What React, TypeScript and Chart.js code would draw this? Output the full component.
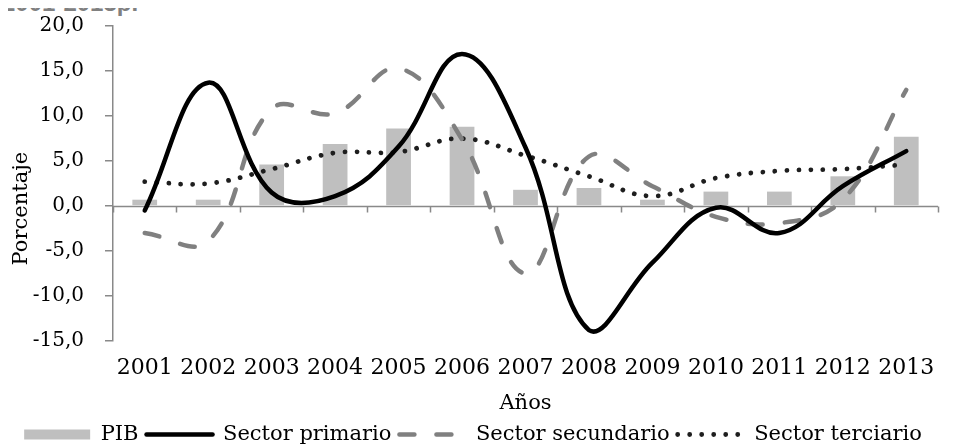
import React, { useEffect, useRef } from "react";
import { Chart, registerables } from "chart.js";

Chart.register(...registerables);

const categories = ["2001", "2002", "2003", "2004", "2005", "2006", "2007", "2008", "2009", "2010", "2011", "2012", "2013"];
const pib = [0.7, 0.7, 4.6, 6.9, 8.6, 8.8, 1.8, 2.0, 0.7, 1.6, 1.6, 3.3, 7.7];
const primario = [-0.5, 13.7, 1.5, 1.1, 6.6, 16.9, 6.5, -13.8, -6.3, -0.2, -3.0, 2.2, 6.1];
const secundario = [-3.0, -3.9, 10.8, 10.3, 15.3, 7.4, -7.5, 5.5, 2.2, -1.2, -1.9, 0.7, 12.9];
const terciario = [2.7, 2.5, 4.1, 5.9, 6.0, 7.5, 5.6, 3.3, 1.1, 3.1, 3.9, 4.1, 4.6];
const seriesNames = ["PIB", "Sector primario", "Sector secundario", "Sector terciario"];
const yTitle = "Porcentaje";
const xTitle = "Años";
const yMin = -15;
const yMax = 20;
const yStep = 5;

const FONT = "'DejaVu Serif', 'Liberation Serif', serif";
const AXIS = "#898989";

const zeroAxis = {
  id: "zeroAxis",
  beforeDatasetsDraw(chart: any) {
    const { ctx, chartArea, scales } = chart;
    const x = scales.x;
    const y = scales.y;
    const y0 = Math.round(y.getPixelForValue(0)) + 0.5;
    ctx.save();
    ctx.strokeStyle = AXIS;
    ctx.lineWidth = 1.5;
    ctx.beginPath();
    ctx.moveTo(chartArea.left, y0);
    ctx.lineTo(chartArea.right, y0);
    const n = categories.length;
    for (let i = 0; i <= n; i++) {
      let px;
      if (i === 0) px = chartArea.left;
      else if (i === n) px = chartArea.right;
      else px = (x.getPixelForValue(i - 1) + x.getPixelForValue(i)) / 2;
      px = Math.round(px) + 0.5;
      ctx.moveTo(px, y0);
      ctx.lineTo(px, y0 + 6);
    }
    ctx.stroke();
    ctx.restore();
  },
  afterDraw(chart: any) {
    const { ctx, chartArea } = chart;
    ctx.save();
    ctx.fillStyle = "#000";
    ctx.font = `21px ${FONT}`;
    ctx.textAlign = "center";
    ctx.textBaseline = "middle";
    ctx.translate(14, chartArea.top + (chartArea.bottom - chartArea.top) * 0.58);
    ctx.rotate(-Math.PI / 2);
    ctx.fillText(yTitle, 0, 0);
    ctx.restore();
  },
};

export default function App() {
  const ref = useRef<HTMLCanvasElement | null>(null);

  useEffect(() => {
    if (!ref.current) return;
    const chart = new Chart(ref.current, {
      type: "bar",
      data: {
        labels: categories,
        datasets: [
          {
            type: "bar",
            label: seriesNames[0],
            data: pib,
            backgroundColor: "#bfbfbf",
            borderColor: "#bfbfbf",
            borderWidth: 0,
            categoryPercentage: 1,
            barPercentage: 0.39,
            order: 4,
          },
          {
            type: "line",
            label: seriesNames[1],
            data: primario,
            borderColor: "#000000",
            backgroundColor: "#000000",
            borderWidth: 4.5,
            pointRadius: 0,
            tension: 0.4,
            borderCapStyle: "round",
            order: 1,
          },
          {
            type: "line",
            label: seriesNames[2],
            data: secundario,
            borderColor: "#808080",
            backgroundColor: "#808080",
            borderWidth: 4.5,
            borderDash: [15, 22],
            borderCapStyle: "round",
            pointRadius: 0,
            tension: 0.4,
            order: 2,
          },
          {
            type: "line",
            label: seriesNames[3],
            data: terciario,
            borderColor: "#1e1e1e",
            backgroundColor: "#1e1e1e",
            borderWidth: 4.8,
            borderDash: [0.01, 12],
            borderCapStyle: "round",
            pointRadius: 0,
            tension: 0.4,
            order: 3,
          },
        ] as any,
      },
      options: {
        animation: false,
        responsive: true,
        maintainAspectRatio: false,
        color: "#000",
        layout: { padding: { top: 18, right: 12, left: 0, bottom: 0 } },
        plugins: {
          tooltip: { enabled: false },
          legend: {
            position: "bottom",
            labels: {
              usePointStyle: true,
              pointStyleWidth: 66,
              boxHeight: 10,
              padding: 8,
              color: "#000",
              font: { family: FONT, size: 21 },
              generateLabels: (c: any) =>
                c.data.datasets.map((ds: any, i: number) => ({
                  text: ds.label,
                  datasetIndex: i,
                  fillStyle: ds.backgroundColor,
                  strokeStyle: ds.borderColor,
                  lineWidth: i === 0 ? 0 : ds.borderWidth,
                  lineDash: ds.borderDash || [],
                  lineCap: ds.borderCapStyle || "butt",
                  lineJoin: "round",
                  pointStyle: i === 0 ? "rect" : "line",
                  rotation: 0,
                  hidden: false,
                  fontColor: "#000",
                })),
            },
          },
        },
        scales: {
          x: {
            offset: true,
            grid: { display: false, drawTicks: false },
            border: { display: false },
            ticks: {
              autoSkip: false,
              maxRotation: 0,
              minRotation: 0,
              padding: 14,
              color: "#000",
              font: { family: FONT, size: 22 },
            },
            title: {
              display: true,
              text: xTitle,
              color: "#000",
              font: { family: FONT, size: 21 },
              padding: { top: 0, bottom: 0 },
            },
            afterFit: (s: any) => {
              s.height = 75;
            },
          },
          y: {
            min: yMin,
            max: yMax,
            ticks: {
              stepSize: yStep,
              padding: 21,
              color: "#000",
              font: { family: FONT, size: 20 },
              callback: (v: any) => Number(v).toFixed(1).replace(".", ","),
            },
            grid: { drawOnChartArea: false, drawTicks: true, tickLength: 8, color: AXIS, lineWidth: 1.5 },
            border: { display: true, color: AXIS, width: 1.5 },
            title: { display: false },
            afterFit: (s: any) => {
              s.width = 105;
              s.paddingTop = 0;
              s.paddingBottom = 0;
            },
          },
        },
      },
      plugins: [zeroAxis],
    } as any);
    return () => chart.destroy();
  }, []);

  return (
    <div style={{ position: "relative", width: 942, height: 436 }}>
      <style>{"html,body{overflow:hidden}"}</style>
      <div
        style={{
          position: "absolute",
          top: -19,
          left: -6,
          fontFamily: "'Liberation Sans', Arial, sans-serif",
          fontWeight: "bold",
          fontSize: 24,
          lineHeight: "28px",
          color: "#808080",
          whiteSpace: "nowrap",
        }}
      >
        2001-2013p.
      </div>
      <div style={{ position: "absolute", top: 0, left: 0, width: 942, height: 447 }}>
        <canvas ref={ref} />
      </div>
    </div>
  );
}
